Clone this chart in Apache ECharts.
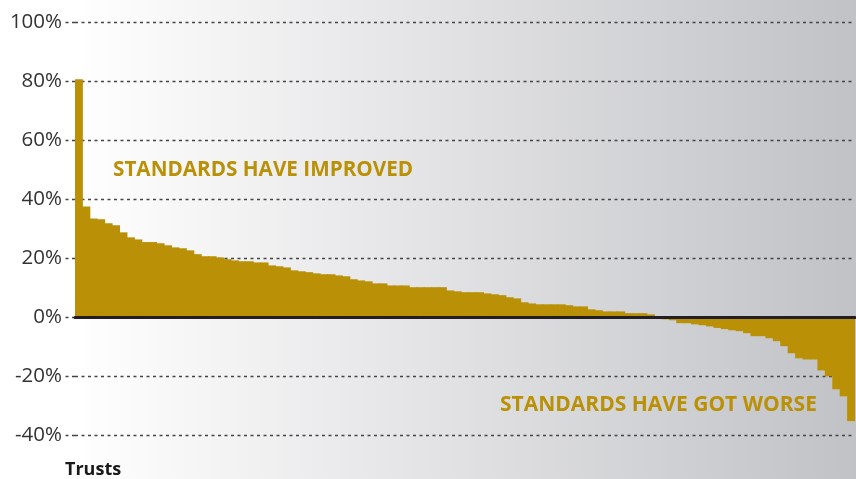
<!DOCTYPE html>
<html>
<head>
<meta charset="utf-8">
<script src="https://cdn.jsdelivr.net/npm/echarts@6/dist/echarts.min.js"></script>
<style>
html,body{margin:0;padding:0;background:#fff;}
#chart{width:856px;height:479px;}
</style>
</head>
<body>
<div id="chart"></div>
<script>
// Change in standards, per trust (%), sorted descending
const values = [
  80.6,37.5,33.4,33.1,31.8,31.1,28.7,27.0,26.3,25.4,
  25.4,25.0,24.3,23.6,23.3,22.6,21.3,20.6,20.6,20.2,
  19.6,19.2,18.9,18.9,18.5,18.5,17.5,17.2,16.8,15.8,
  15.5,15.2,14.8,14.5,14.5,14.1,13.8,12.8,12.4,12.1,
  11.4,11.4,10.7,10.7,10.7,10.1,10.1,10.1,10.1,10.1,
  9.0,8.7,8.4,8.4,8.4,8.0,7.7,7.4,6.7,6.3,
  5.0,4.6,4.3,4.3,4.3,4.3,4.0,3.6,3.6,2.6,
  2.3,1.9,1.9,1.9,1.3,1.3,1.3,0.9,0,-0.8,
  -1.1,-2.1,-2.1,-2.5,-2.8,-3.2,-3.7,-4.1,-4.5,-4.8,
  -5.5,-6.5,-6.5,-7.2,-8.2,-9.9,-12.3,-14.0,-14.4,-14.4,
  -18.1,-20.1,-24.5,-26.9,-35.3
];
const trusts = values.map((_, i) => 'Trust ' + (i + 1));
const yTicks = [-40, -20, 0, 20, 40, 60, 80, 100];
const axisTitle = 'Trusts';
const noteUp = 'STANDARDS HAVE IMPROVED';
const noteDown = 'STANDARDS HAVE GOT WORSE';

const gold = '#ba9006';
const chart = echarts.init(document.getElementById('chart'));
chart.setOption({
  animation: false,
  backgroundColor: '#ffffff',
  grid: { left: 75, right: 1, top: 22, bottom: 44, containLabel: false },
  graphic: [
    {
      type: 'rect', z: -10, silent: true,
      shape: { x: 75, y: 0, width: 781, height: 479 },
      style: {
        fill: new echarts.graphic.LinearGradient(0, 0, 1, 0, [
          { offset: 0, color: '#ffffff' },
          { offset: 1, color: '#c1c2c6' }
        ])
      }
    },
    {
      type: 'text', left: 113, top: 160, z: 10,
      style: { text: noteUp, fill: gold, font: 'bold 20.7px "Open Sans", sans-serif' }
    },
    {
      type: 'text', left: 500, top: 395, z: 10,
      style: { text: noteDown, fill: gold, font: 'bold 21px "Open Sans", sans-serif' }
    },
    {
      type: 'text', left: 65, top: 461, z: 10,
      style: { text: axisTitle, fill: '#1a1a1a', font: 'bold 18px "Open Sans", sans-serif' }
    }
  ],
  xAxis: {
    type: 'category',
    data: trusts,
    boundaryGap: true,
    axisLine: { show: true, onZero: true, lineStyle: { color: '#231f20', width: 3 } },
    axisTick: { show: false },
    axisLabel: { show: false },
    splitLine: { show: false },
    z: 5
  },
  yAxis: {
    type: 'value',
    min: yTicks[0],
    max: yTicks[yTicks.length - 1],
    interval: 20,
    axisLine: { show: false },
    axisTick: { show: true, length: 12, lineStyle: { color: '#444', width: 1.3, type: [3, 3.5] } },
    axisLabel: {
      margin: 13,
      formatter: v => v + '%',
      color: '#333',
      fontSize: 20.5,
      fontFamily: '"Open Sans", sans-serif'
    },
    splitLine: { show: true, lineStyle: { color: '#444', width: 1.3, type: [3, 3.5] } }
  },
  series: [{
    type: 'bar',
    data: values,
    barWidth: '112%',
    itemStyle: { color: gold },
    z: 2
  }]
});
</script>
</body>
</html>
